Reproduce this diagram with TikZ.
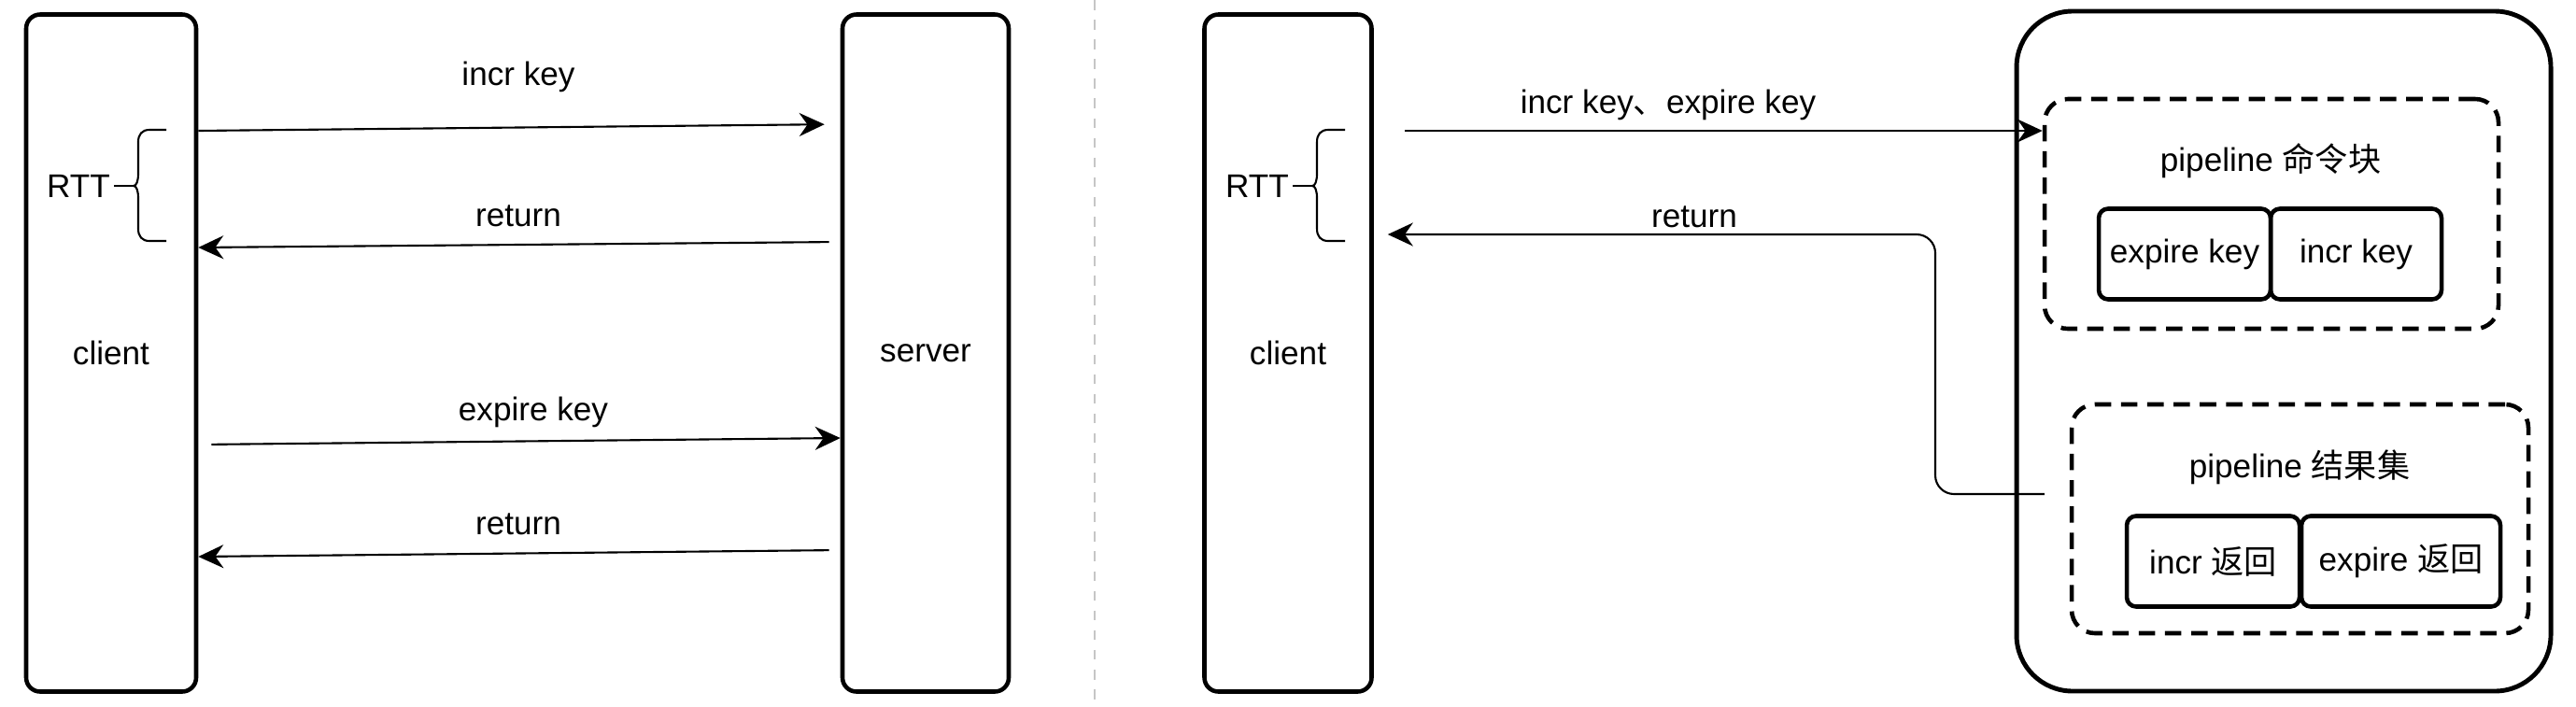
\documentclass[tikz,border=0pt]{standalone}
\usepackage{fontspec}
\setmainfont{Liberation Sans}
\newfontfamily\cjk{Noto Sans CJK SC}
\usetikzlibrary{arrows.meta}
\tikzset{
  lifeline/.style={draw, line width=1.3pt, rounded corners=0.15cm, minimum height=7.25cm, inner sep=0pt},
  cell/.style={draw, line width=1.3pt, rounded corners=0.1cm, minimum height=0.97cm, inner sep=0pt},
  group/.style={draw, line width=1.3pt, dash pattern=on 5pt off 3pt, rounded corners=0.25cm, inner sep=0pt},
  msg/.style={line width=0.6pt, -{Stealth[length=0.27cm, width=0.25cm]}},
  lbl/.style={inner sep=1pt}
}
\begin{document}
\begin{tikzpicture}[x=1cm, y=-1cm]
    \useasboundingbox (0,0) rectangle (27.58,7.56);
    % one request at a time
    \node[lifeline, minimum width=1.82cm] (client) at (1.19,3.78) {client};
    \node[lifeline, minimum width=1.78cm] (server) at (9.91,3.78) {server};
    \node[lbl] (incr) at (5.55,0.82) {incr key};
    \node[lbl] (ret1) at (5.55,2.31) {return};
    \node[lbl] (expire) at (5.71,4.41) {expire key};
    \node[lbl] (ret2) at (5.55,5.61) {return};
    \draw[msg, shorten >=0.17cm] (client.east |- 0,1.40) -- (server.west |- 0,1.33);
    \draw[msg, shorten <=0.12cm] (server.west |- 0,2.59) -- (client.east |- 0,2.65);
    \draw[msg, shorten <=0.14cm] (client.east |- 0,4.76) -- (server.west |- 0,4.69);
    \draw[msg, shorten <=0.12cm] (server.west |- 0,5.89) -- (client.east |- 0,5.96);
    % divider
    \draw[gray!45, dashed, line width=0.6pt] (11.72,0) -- (11.72,7.56);
    % pipeline
    \node[lifeline, minimum width=1.79cm] (client2) at (13.79,3.78) {client};
    \node[draw, line width=1.4pt, rounded corners=0.6cm, minimum width=5.72cm, minimum height=7.28cm] (redis) at (24.45,3.76) {};
    \node[group, minimum width=4.86cm, minimum height=2.46cm] (cmd) at (24.32,2.29) {};
    \node[lbl] (cmdtitle) at (24.31,1.72) {pipeline {\cjk 命令块}};
    \node[cell, minimum width=1.84cm] (ekey) at (23.39,2.72) {expire key};
    \node[cell, minimum width=1.83cm] (ikey) at (25.225,2.72) {incr key};
    \node[group, minimum width=4.89cm, minimum height=2.45cm] (res) at (24.625,5.555) {};
    \node[lbl] (restitle) at (24.62,5.00) {pipeline {\cjk 结果集}};
    \node[cell, minimum width=1.85cm] (iret) at (23.695,6.01) {incr {\cjk 返回}};
    \node[cell, minimum width=2.13cm] (eret) at (25.705,6.01) {expire {\cjk 返回}};
    \node[lbl] (both) at (17.86,1.12) {incr key{\cjk 、}expire key};
    \node[lbl] (ret3) at (18.14,2.32) {return};
    \draw[msg, shorten <=0.33cm] (client2.east |- 0,1.40) -- (cmd.west |- 0,1.40);
    \draw[msg, rounded corners=0.2cm, shorten <=0.27cm, shorten >=0.15cm] (res.west |- 0,5.29) -| (20.72,2.51) -- (client2.east |- 0,2.51);
    % RTT braces
    \foreach \x/\n in {0/A,12.62/B}{
      \node[lbl, anchor=east] (rtt\n) at (1.22+\x,1.99) {RTT};
      \draw[line width=0.6pt] (rtt\n.east) -- (1.43+\x,1.99);
      \draw[line width=0.6pt] (1.78+\x,1.39) -- (1.60+\x,1.39) .. controls (1.52+\x,1.39) and (1.48+\x,1.44) .. (1.48+\x,1.52)
        -- (1.48+\x,1.86) .. controls (1.48+\x,1.94) and (1.46+\x,1.99) .. (1.43+\x,1.99)
        .. controls (1.46+\x,1.99) and (1.48+\x,2.04) .. (1.48+\x,2.12)
        -- (1.48+\x,2.45) .. controls (1.48+\x,2.53) and (1.52+\x,2.58) .. (1.60+\x,2.58) -- (1.78+\x,2.58);
    }
\end{tikzpicture}
\end{document}
